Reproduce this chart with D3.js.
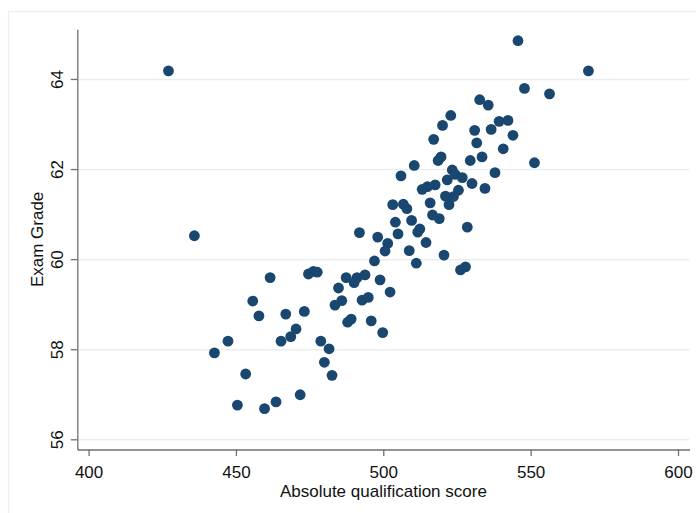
<!DOCTYPE html>
<html>
<head>
<meta charset="utf-8">
<script src="https://cdn.jsdelivr.net/npm/d3@7"></script>
<style>
  html, body { margin: 0; padding: 0; background: #fff; }
  svg { display: block; font-family: "Liberation Sans", Arial, sans-serif; }
  .grid line { stroke: #e9eff1; stroke-width: 1.5; }
  .grid path { display: none; }
  .axis path, .axis line { stroke: #707070; stroke-width: 1.3; }
  .axis text { fill: #111; font-size: 17px; }
</style>
</head>
<body>
<div id="chart"></div>
<script>
// data
const scores = [
  427.1, 435.9, 545.7, 569.6, 547.9, 556.4, 532.7, 535.6, 522.9, 520.1,
  539.3, 542.3, 531.0, 536.6, 544.0, 517.1, 531.7, 540.7, 519.6, 518.6,
  533.5, 529.5, 551.3, 510.5, 506.0, 523.4, 524.4, 526.8, 521.7, 537.9,
  530.1, 534.5, 513.2, 515.0, 517.6, 525.5, 523.8, 521.1, 522.3, 515.9,
  503.2, 506.8, 508.0, 516.7, 519.0, 504.1, 509.6, 512.4, 511.7, 505.0,
  528.5, 491.9, 498.1, 501.5, 514.5, 500.6, 508.8, 520.6, 497.0, 511.2,
  526.2, 527.9, 487.4, 490.1, 491.1, 493.8, 498.9, 502.3, 485.9, 492.8,
  494.9, 484.8, 483.6, 487.9, 489.1, 495.9, 499.8, 481.6, 474.6, 476.3,
  477.6, 461.6, 455.7, 457.8, 466.9, 473.2, 470.4, 468.6, 465.3, 447.3,
  442.7, 478.8, 480.0, 482.6, 453.3, 471.8, 450.5, 459.7, 463.6
];

const grades = [
  64.18, 60.52, 64.85, 64.18, 63.79, 63.67, 63.54, 63.42, 63.19, 62.97,
  63.06, 63.08, 62.86, 62.88, 62.75, 62.66, 62.58, 62.45, 62.27, 62.19,
  62.27, 62.19, 62.14, 62.08, 61.85, 61.98, 61.88, 61.81, 61.76, 61.92,
  61.68, 61.57, 61.55, 61.61, 61.65, 61.53, 61.39, 61.40, 61.21, 61.25,
  61.21, 61.22, 61.12, 60.98, 60.90, 60.82, 60.86, 60.67, 60.60, 60.56,
  60.71, 60.59, 60.49, 60.35, 60.37, 60.18, 60.19, 60.09, 59.96, 59.91,
  59.76, 59.83, 59.59, 59.48, 59.59, 59.65, 59.54, 59.27, 59.08, 59.09,
  59.15, 59.36, 58.98, 58.60, 58.67, 58.63, 58.37, 58.01, 59.67, 59.73,
  59.71, 59.59, 59.07, 58.74, 58.78, 58.84, 58.45, 58.28, 58.18, 58.18,
  57.92, 58.18, 57.71, 57.42, 57.45, 56.99, 56.76, 56.68, 56.83
];

const xTicks = [400, 450, 500, 550, 600];
const yTicks = [56, 58, 60, 62, 64];

const xTitle = "Absolute qualification score";
const yTitle = "Exam Grade";

const W = 696, H = 513;
const plot = { left: 77.3, right: 689.5, top: 29.3, bottom: 449.5 };

const svg = d3.select("#chart")
  .append("svg")
  .attr("width", W)
  .attr("height", H);

// outer frame (graph region)
svg.append("rect")
  .attr("x", 8.5)
  .attr("y", 11.5)
  .attr("width", 720)
  .attr("height", 520)
  .attr("fill", "#fff")
  .attr("stroke", "#e9eff1")
  .attr("stroke-width", 1.3);

// scales
const x = d3.scaleLinear()
  .domain([396.17, 603.9])
  .range([plot.left, plot.right]);

const y = d3.scaleLinear()
  .domain([55.774, 65.103])
  .range([plot.bottom, plot.top]);

const width = plot.right - plot.left;

// grid
svg.append("g")
  .attr("class", "grid")
  .attr("transform", `translate(${plot.left},0)`)
  .call(d3.axisLeft(y).tickValues(yTicks).tickSize(-width).tickFormat(""));

// y axis
const yAxis = svg.append("g")
  .attr("class", "axis")
  .attr("transform", `translate(${plot.left},0)`)
  .call(d3.axisLeft(y).tickValues(yTicks).tickSize(6.5).tickSizeOuter(0).tickFormat(d3.format("d")));

yAxis.selectAll("text")
  .attr("x", 0)
  .attr("y", -14)
  .attr("dy", 0)
  .attr("transform", "rotate(-90)")
  .style("text-anchor", "middle");

// x axis
const xAxis = svg.append("g")
  .attr("class", "axis")
  .attr("transform", `translate(0,${plot.bottom})`)
  .call(d3.axisBottom(x).tickValues(xTicks).tickSize(6.5).tickSizeOuter(0).tickFormat(d3.format("d")));

xAxis.selectAll("text")
  .attr("y", 28)
  .attr("dy", 0);

// titles
svg.append("text")
  .attr("x", (plot.left + plot.right) / 2)
  .attr("y", 497)
  .attr("text-anchor", "middle")
  .attr("fill", "#111")
  .attr("font-size", "17px")
  .text(xTitle);

svg.append("text")
  .attr("transform", `translate(43,${(plot.top + plot.bottom) / 2}) rotate(-90)`)
  .attr("text-anchor", "middle")
  .attr("fill", "#111")
  .attr("font-size", "17px")
  .text(yTitle);

// points
const points = scores.map((s, i) => ({ s, g: grades[i] }));

svg.append("g")
  .selectAll("circle")
  .data(points)
  .enter()
  .append("circle")
  .attr("cx", d => x(d.s))
  .attr("cy", d => y(d.g))
  .attr("r", 5.4)
  .attr("fill", "#1a476f");
</script>
</body>
</html>
